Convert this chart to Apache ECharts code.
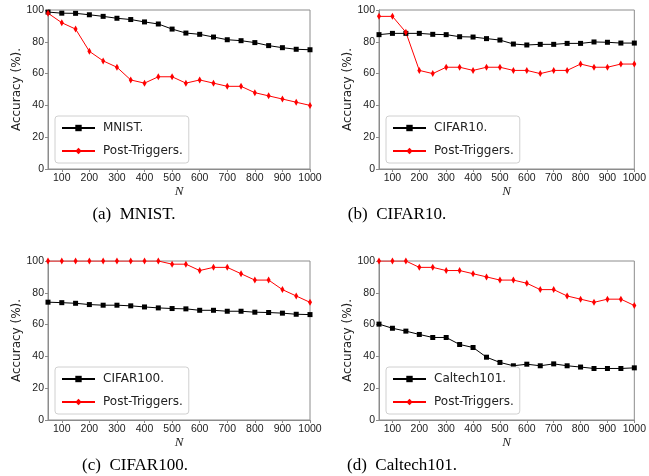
<!DOCTYPE html>
<html>
<head>
<meta charset="utf-8">
<script src="https://cdn.jsdelivr.net/npm/echarts@6/dist/echarts.min.js"></script>
<style>
  html, body { margin: 0; padding: 0; background: #fff; }
  #chart { width: 649px; height: 476px; }
</style>
</head>
<body>
<div id="chart"></div>
<script>
// N values on the x axis
const nValues = [50, 100, 150, 200, 250, 300, 350, 400, 450, 500, 550, 600, 650, 700, 750, 800, 850, 900, 950, 1000]
const xTicks = [100, 200, 300, 400, 500, 600, 700, 800, 900, 1000]
const yTicks = [0, 20, 40, 60, 80, 100]

// (a) MNIST
const mnistClean = [98.7, 98, 97.9, 97, 96, 94.8, 94, 92.5, 91.2, 88, 85.5, 84.7, 83, 81.3, 80.7, 79.5, 77.6, 76.3, 75.3, 75]
const mnistPost = [98, 92, 88, 74, 68, 64, 56, 54, 58, 58, 54, 56, 54, 52, 52, 48, 46, 44, 42, 40]
// (b) CIFAR10
const cifar10Clean = [84.5, 85.3, 85.3, 85.3, 84.7, 84.5, 83.2, 83, 82, 81.1, 78.6, 78, 78.4, 78.4, 79, 79, 79.9, 79.7, 79.2, 79.2]
const cifar10Post = [96, 96, 86, 62, 60, 64, 64, 62, 64, 64, 62, 62, 60, 62, 62, 66, 64, 64, 66, 66]
// (c) CIFAR100
const cifar100Clean = [74.1, 73.8, 73.4, 72.6, 72.2, 72.2, 71.8, 71.1, 70.5, 70.1, 69.9, 69, 69, 68.4, 68.4, 67.8, 67.6, 67.2, 66.5, 66.3]
const cifar100Post = [100, 100, 100, 100, 100, 100, 100, 100, 100, 98, 98, 94, 96, 96, 92, 88, 88, 82, 78, 74]
// (d) Caltech101
const caltechClean = [60.3, 57.7, 55.9, 53.8, 51.9, 51.9, 47.5, 45.6, 39.5, 36.2, 34.1, 35.1, 34.1, 35.3, 34.1, 33.3, 32.4, 32.4, 32.4, 32.8]
const caltechPost = [100, 100, 100, 96, 96, 94, 94, 92, 90, 88, 88, 86, 82, 82, 78, 76, 74, 76, 76, 72]

const panels = [
    { name: 'MNIST.', caption: '(a)  MNIST.', clean: mnistClean, post: mnistPost, left: 48, top: 10, capX: 129 },
    { name: 'CIFAR10.', caption: '(b)  CIFAR10.', clean: cifar10Clean, post: cifar10Post, left: 379, top: 10, capX: 392 },
    { name: 'CIFAR100.', caption: '(c)  CIFAR100.', clean: cifar100Clean, post: cifar100Post, left: 48, top: 261, capX: 130 },
    { name: 'Caltech101.', caption: '(d)  Caltech101.', clean: caltechClean, post: caltechPost, left: 379, top: 261, capX: 397 }
]

const spineColor = '#8c8c8c'
const tickFont = { fontFamily: 'Liberation Sans', fontSize: 10.5, color: '#222' }
const pairs = d => nValues.map((n, i) => [n, d[i]])

const grid = [], xAxis = [], yAxis = [], series = [], legend = [], title = []
panels.forEach((p, i) => {
    grid.push({
        left: p.left, top: p.top, width: 262, height: 159,
        show: true, borderColor: spineColor, borderWidth: 1, backgroundColor: 'transparent'
    })
    xAxis.push({
        type: 'value', gridIndex: i, min: 50, max: 1000,
        name: 'N', nameLocation: 'middle', nameGap: 14,
        nameTextStyle: { fontFamily: 'Liberation Serif', fontStyle: 'italic', fontSize: 13, color: '#222' },
        axisLine: { show: true, lineStyle: { color: spineColor } },
        axisTick: { show: true, length: 3, customValues: xTicks, lineStyle: { color: spineColor } },
        axisLabel: Object.assign({ customValues: xTicks, margin: 4, formatter: v => String(v) }, tickFont),
        splitLine: { show: false }
    })
    yAxis.push({
        type: 'value', gridIndex: i, min: 0, max: 100, interval: 20,
        name: 'Accuracy (%).', nameLocation: 'middle', nameGap: 24,
        nameTextStyle: { fontFamily: 'DejaVu Sans', fontSize: 12, color: '#222' },
        axisLine: { show: true, lineStyle: { color: spineColor } },
        axisTick: { show: true, length: 3, lineStyle: { color: spineColor } },
        axisLabel: Object.assign({ margin: 4 }, tickFont),
        splitLine: { show: false }
    })
    series.push({
        name: p.name, type: 'line', xAxisIndex: i, yAxisIndex: i,
        data: pairs(p.clean), symbol: 'rect', symbolSize: 5,
        color: '#000', lineStyle: { width: 1, color: '#000' }, itemStyle: { color: '#000' },
        animation: false
    })
    series.push({
        name: 'Post-Triggers.', type: 'line', xAxisIndex: i, yAxisIndex: i,
        data: pairs(p.post), symbol: 'diamond', symbolSize: [4, 7],
        color: '#ff0000', lineStyle: { width: 1, color: '#ff0000' }, itemStyle: { color: '#ff0000' },
        animation: false
    })
    legend.push({
        data: [p.name, 'Post-Triggers.'], orient: 'vertical',
        left: p.left + 7, top: p.top + 106,
        itemWidth: 33, itemHeight: 8, itemGap: 11,
        padding: [6, 6, 6, 6],
        borderColor: '#d0d0d0', borderWidth: 1, borderRadius: 3, backgroundColor: '#fff',
        textStyle: { fontFamily: 'DejaVu Sans', fontSize: 12, color: '#222', padding: [0, 0, 0, 3] },
        selectedMode: false
    })
    title.push({
        text: p.caption, left: p.capX, top: p.top + 191, textAlign: 'center',
        textStyle: { fontFamily: 'Liberation Serif', fontSize: 17, fontWeight: 'normal', color: '#000' }
    })
})

const chart = echarts.init(document.getElementById('chart'))
chart.setOption({
    animation: false,
    grid: grid,
    xAxis: xAxis,
    yAxis: yAxis,
    legend: legend,
    title: title,
    series: series
})
</script>
</body>
</html>
